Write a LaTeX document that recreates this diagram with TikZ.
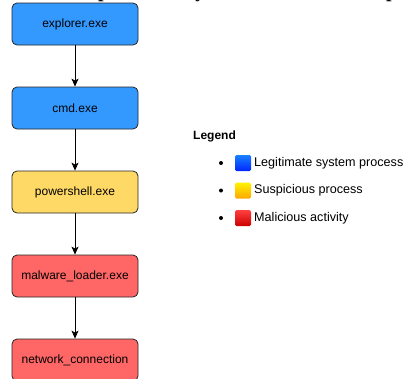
\documentclass[tikz,border=0pt]{standalone}
\usepackage{fontspec}
\setmainfont{Liberation Sans}
\newfontfamily\headfont{Liberation Serif}
\usetikzlibrary{arrows.meta}

\definecolor{legitblue}{HTML}{3399FF}
\definecolor{suspyellow}{HTML}{FFD966}
\definecolor{malred}{HTML}{FF6666}

\tikzset{
  proc/.style={draw=black!85, line width=0.8pt, rounded corners=5pt,
    minimum width=126pt, minimum height=42pt, inner sep=0pt,
    font=\fontsize{12}{14}\selectfont},
  spawn/.style={-{Stealth[length=8pt,width=7pt,inset=2pt]}, line width=0.8pt},
  dot/.style={circle, fill=black, inner sep=0pt, minimum size=4pt},
  swatch/.style={inner sep=0pt, minimum size=16pt, rounded corners=1.5pt},
  legtext/.style={anchor=west, inner sep=0pt, font=\fontsize{12.6}{14}\selectfont},
}

\begin{document}
\begin{tikzpicture}[x=1pt,y=-1pt]
  \useasboundingbox (0,0) rectangle (403,378);
  \clip (0,0) rectangle (403,378);

  % heading sits above the frame, only its descenders show
  \node[anchor=base west, inner sep=0pt,
    font=\headfont\bfseries\fontsize{20}{24}\selectfont] (heading) at (48,-2.8)
    {Example Ancestry of the Malware Compromise};

  % process chain
  \node[proc, fill=legitblue] (explorer) at (75,24) {explorer.exe};
  \node[proc, fill=legitblue] (cmd) at (75,108) {cmd.exe};
  \node[proc, fill=suspyellow] (powershell) at (75,192) {powershell.exe};
  \node[proc, fill=malred] (loader) at (75,276) {malware\_loader.exe};
  \node[proc, fill=malred] (netconn) at (75,360) {network\_connection};

  \draw[spawn] (explorer) -- (cmd);
  \draw[spawn] (cmd) -- (powershell);
  \draw[spawn] (powershell) -- (loader);
  \draw[spawn] (loader) -- (netconn);

  % legend
  \node[anchor=west, inner sep=0pt, font=\bfseries\fontsize{12}{14}\selectfont]
    (legend) at (193,136) {Legend};

  \node[dot] (dot1) at (221,163) {};
  \node[swatch, top color=blue!55!cyan!90, bottom color=blue!85!cyan] (sw1) at (243,163) {};
  \node[legtext] (leg1) at (254,163) {Legitimate system process};

  \node[dot] (dot2) at (221,190.5) {};
  \node[swatch, top color=yellow!90!orange, bottom color=orange!70!yellow] (sw2) at (243,190.5) {};
  \node[legtext] (leg2) at (254,190.5) {Suspicious process};

  \node[dot] (dot3) at (221,218) {};
  \node[swatch, top color=red!75!white, bottom color=red!80!black] (sw3) at (243,218) {};
  \node[legtext] (leg3) at (254,218) {Malicious activity};
\end{tikzpicture}
\end{document}
